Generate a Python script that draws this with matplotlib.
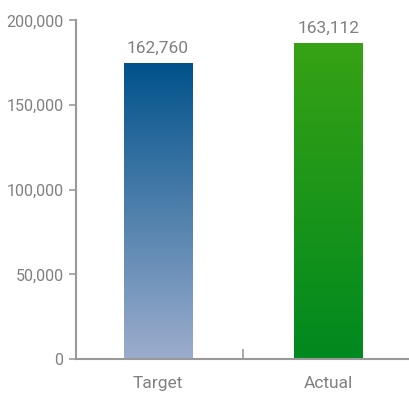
import matplotlib
matplotlib.use('Agg')
import matplotlib.pyplot as plt
import numpy as np
from matplotlib.colors import LinearSegmentedColormap
from matplotlib.ticker import FuncFormatter

# Data
categories = ['Target', 'Actual']
bar_values = [175000, 186600]
value_labels = ['162,760', '163,112']

# top/bottom colours of each bar gradient
grad_colors = [('#00528b', '#9cadcd'), ('#37a214', '#00891f')]

plt.rcParams['font.family'] = ['Roboto', 'DejaVu Sans']

fig = plt.figure(figsize=(4.10, 3.94), dpi=100)
ax = fig.add_axes([76 / 410, 35 / 394, 334 / 410, 338.5 / 394])

x = np.arange(len(categories))
bars = ax.bar(x, bar_values, width=0.4, color='none', zorder=2)

# gradient fill clipped to each bar
for bar, (top, bottom) in zip(bars, grad_colors):
    cmap = LinearSegmentedColormap.from_list('g', [bottom, top])
    grad = np.linspace(0, 1, 256).reshape(-1, 1)
    x0, y0 = bar.get_x(), bar.get_y()
    im = ax.imshow(grad, cmap=cmap, origin='lower', aspect='auto',
                   extent=[x0, x0 + bar.get_width(), y0, y0 + bar.get_height()],
                   zorder=1)
    im.set_clip_path(bar)

for bar, lab in zip(bars, value_labels):
    ax.annotate(lab, (bar.get_x() + bar.get_width() / 2, bar.get_height()),
                xytext=(0, 5), textcoords='offset points',
                ha='center', va='bottom', fontsize=12.5, color='#808080')

ax.set_xlim(-0.48, 1.48)
ax.set_ylim(0, 200000)
ax.set_yticks([0, 50000, 100000, 150000, 200000])
ax.yaxis.set_major_formatter(FuncFormatter(lambda v, p: f'{int(v):,}'))

# category labels without ticks; a single separator tick between them
ax.set_xticks([0.5])
ax.set_xticklabels([''])
ax.set_xticks(x, minor=True)
ax.set_xticklabels(categories, minor=True)
ax.tick_params(axis='x', which='major', direction='in', length=7, width=1.2, color='#999999')
ax.tick_params(axis='x', which='minor', length=0, pad=12, labelsize=12.5, labelcolor='#808080')
ax.tick_params(axis='y', direction='out', length=5, width=1.2, color='#999999',
               labelsize=11.5, labelcolor='#808080', pad=4)

for s in ['top', 'right']:
    ax.spines[s].set_visible(False)
for s in ['left', 'bottom']:
    ax.spines[s].set_color('#999999')
    ax.spines[s].set_linewidth(1.5)

fig.savefig('out.png', dpi=100)
